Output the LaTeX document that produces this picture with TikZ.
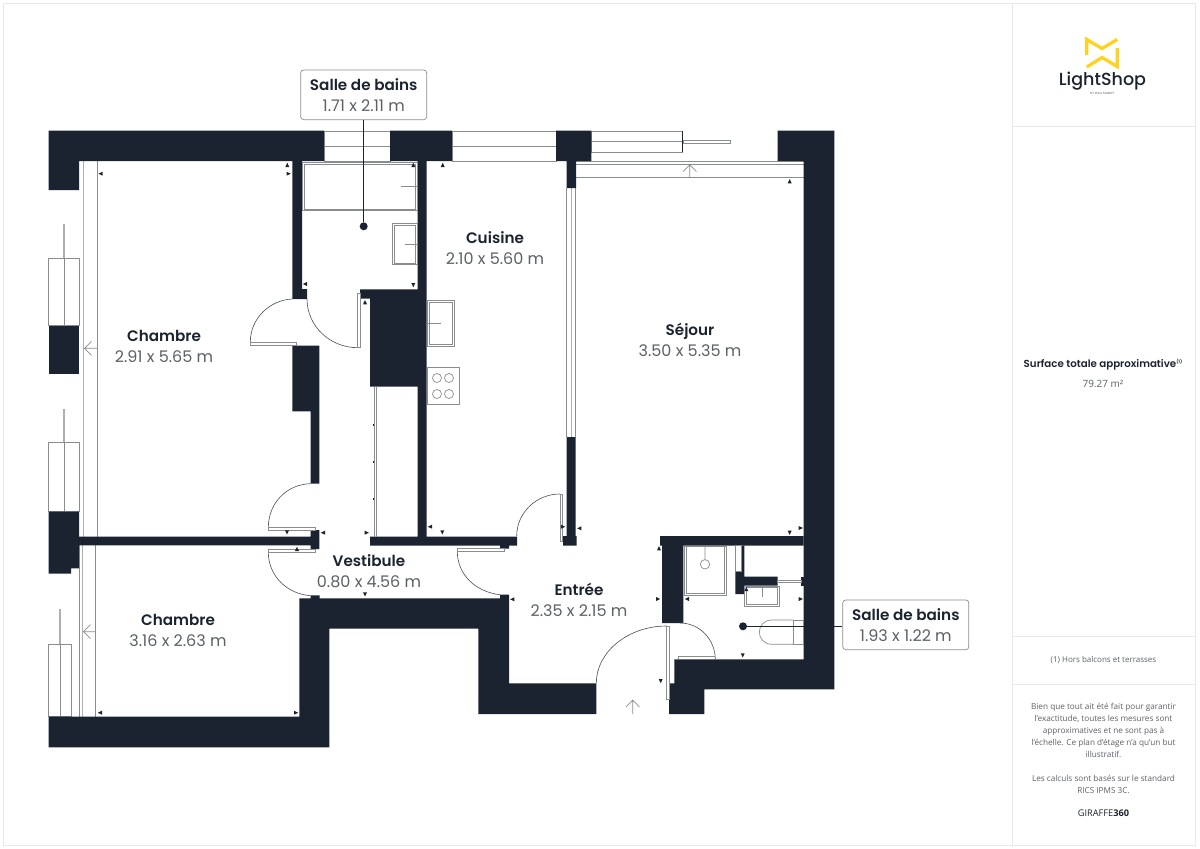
\documentclass[tikz,border=0pt]{standalone}
\usepackage{fontspec}
\setmainfont{Poppins}
\newfontfamily\panelfont{Open Sans}
\newfontfamily\namefont{Poppins SemiBold}
\newfontfamily\logofont{Poppins Medium}
\definecolor{wallblue}{HTML}{1B2330}
\definecolor{dimgray}{HTML}{5C6168}
\definecolor{fixgray}{HTML}{8A8D90}
\definecolor{paneledge}{HTML}{E9E9E9}
\definecolor{logoyellow}{HTML}{FFD21F}
\newcommand{\roomname}[1]{{\namefont\fontsize{15.2}{21}\selectfont\color{wallblue}#1}}
\tikzset{
  wall/.style={fill=wallblue,draw=none},
  fix/.style={draw=fixgray,line width=0.7pt},
  fixthick/.style={draw=fixgray!70,line width=1.5pt},
  leaf/.style={draw=wallblue!80,line width=0.6pt},
  roomlabel/.style={align=center,inner sep=0pt,text=dimgray,font=\fontsize{16}{21}\selectfont},
  callout/.style={roomlabel,draw=fixgray,fill=white,rounded corners=3pt,line width=0.7pt,minimum width=126pt,minimum height=49.7pt},
  panel/.style={align=center,inner sep=0pt,text=dimgray,font=\panelfont\fontsize{8.2}{12}\selectfont},
  pin/.style={circle,fill=wallblue,inner sep=0pt,minimum size=8pt},
  leader/.style={draw=wallblue,line width=0.8pt}
}
\begin{document}
\begin{tikzpicture}[x=1pt,y=-1pt]
 \useasboundingbox (0,0) rectangle (1200,849);
 \fill[white] (0,0) rectangle (1200,849);
 \draw[paneledge,line width=1pt] (3,3) rectangle (1195.5,845.5);
 \draw[paneledge,line width=1pt] (1012,3) -- (1012,845.5);
 \foreach \y in {126,636.7,684.3} \draw[paneledge,line width=1pt] (1012,\y) -- (1195.5,\y);

 % windows and balcony lines
 \draw[fix] (324,131) rectangle (390,161) (324,146) -- (390,146);
 \draw[fix] (452,131) rectangle (556,161) (452,146) -- (556,146);
 \draw[fix] (591.3,131) rectangle (682.7,152.3) (591.3,141.7) -- (682.7,141.7);
 \draw[wallblue,line width=1.2pt] (682.7,131) -- (682.7,152.3);
 \draw[fix] (683,140.4) rectangle (730.6,142.9);
 \draw[fix] (576,161) -- (804,161) (576,164.3) -- (804,164.3) (576,177.3) -- (804,177.3);
 \draw[fix] (689.7,177.3) -- (689.7,164.8) (683,171.5) -- (689.7,164.8) -- (696.4,171.5);
 \draw[fix] (566.7,188) -- (566.7,437) (575.5,188) -- (575.5,437);
 \draw[fixthick] (571.6,188) -- (571.6,437);
 \draw[fixthick] (83.3,161) -- (83.3,536.7);
 \draw[fix] (97.3,161) -- (97.3,536.7);
 \draw[fix] (79.3,545) -- (79.3,716.7) (95.7,545) -- (95.7,716.7);
 \draw[fixthick] (82.7,545) -- (82.7,716.7);
 \draw[fix] (97.3,348.3) -- (84.5,348.3) (91.5,341.3) -- (84.5,348.3) -- (91.5,355.3);
 \draw[fix] (95.7,631.7) -- (83.5,631.7) (90.5,624.7) -- (83.5,631.7) -- (90.5,638.7);
 \draw[fix] (48.7,258.3) rectangle (79,325.7) (64,258.3) -- (64,325.7);
 \draw[fix] (48.7,442.3) rectangle (79,511.7) (64,442.3) -- (64,511.7);
 \draw[fix] (48.7,644) rectangle (71.7,716.7) (60,644) -- (60,716.7);
 \draw[fixthick] (64,224.3) -- (64,258) (64,408.7) -- (64,442) (60,609) -- (60,644);

 % walls
 \path[wall] (48.7,130.7) -- (324,130.7) -- (324,161) -- (302,161) -- (302,289) -- (307,289) -- (307,299) -- (292.3,299) -- (292.3,161) -- (79,161) -- (79,190) -- (48.7,190) -- cycle;
 \path[wall] (390,130.7) -- (452,130.7) -- (452,161) -- (426.7,161) -- (426.7,536.7) -- (517,536.7) -- (517,545.5) -- (509,545.5) -- (509,548.5) -- (500,548.5) -- (500,545.5) -- (370,545.5) -- (370,536.7) -- (417.7,536.7) -- (417.7,386.7) -- (370,386.7) -- (370,298.5) -- (360,298.5) -- (360,289.3) -- (417.7,289.3) -- (417.7,161) -- (390,161) -- cycle;
 \path[wall] (556,130.7) -- (591.3,130.7) -- (591.3,161) -- (576,161) -- (576,188) -- (566.7,188) -- (566.7,161) -- (556,161) -- cycle;
 \path[wall] (566.7,437) -- (575.7,437) -- (575.7,536) -- (576.7,536) -- (576.7,545.5) -- (563,545.5) -- (563,536) -- (566.7,536) -- cycle;
 \path[wall] (777.7,130.7) -- (834.3,130.7) -- (834.3,689.3) -- (704.3,689.3) -- (704.3,714) -- (669,714) -- (669,683.3) -- (674.3,683.3) -- (674.3,659.3) -- (803.7,659.3) -- (803.7,161) -- (777.7,161) -- cycle;
 \path[wall] (803.7,536) -- (660,536) -- (660,545.7) -- (662,545.7) -- (662,623) -- (683.3,623) -- (683.3,545.7) -- (803.7,545.7) -- cycle;
 \path[wall] (741,545.7) -- (744.3,545.7) -- (744.3,576.7) -- (777.7,576.7) -- (777.7,585.7) -- (744.3,585.7) -- (744.3,594) -- (735.3,594) -- (735.3,571.7) -- (741,571.7) -- cycle;
 \path[wall] (801.3,576.7) rectangle (804,585.7);
 \path[wall] (292.3,345.7) -- (319.3,345.7) -- (319.3,483.7) -- (310.7,483.7) -- (310.7,411.3) -- (292.3,411.3) -- cycle;
 \path[wall] (79,536.7) -- (310.7,536.7) -- (310.7,530) -- (319.3,530) -- (319.3,549) -- (310.7,549) -- (310.7,545.3) -- (79,545.3) -- cycle;
 \path[wall] (48.7,325.7) rectangle (79,374.3);
 \path[wall] (48.7,511.7) -- (79,511.7) -- (79,568.3) -- (71,568.3) -- (71,573.7) -- (48.7,573.7) -- cycle;
 \path[wall] (48.7,716.7) -- (299.3,716.7) -- (299.3,598.3) -- (310.7,598.3) -- (310.7,595.3) -- (319.7,595.3) -- (319.7,598.3) -- (500,598.3) -- (500,594.7) -- (509,594.7) -- (509,683.3) -- (596.3,683.3) -- (596.3,714) -- (478.3,714) -- (478.3,628.7) -- (329.3,628.7) -- (329.3,747.3) -- (48.7,747.3) -- cycle;

 % doors
 \draw[leaf] (307,299) .. controls (307,326) and (330,347.7) .. (357.7,347.7);
 \draw[fix] (357.7,347.7) -- (357.7,293.3) -- (360.3,293.3) -- (360.3,347.7) -- cycle;
 \draw[leaf] (250.3,342.3) .. controls (250.3,318) and (270,300) .. (292.3,299);
 \draw[fix] (250.3,342.3) rectangle (296.7,345.7);
 \draw[leaf] (268.3,527.7) .. controls (268.3,503) and (287,484) .. (310.7,483.7);
 \draw[fix] (268.3,527.7) rectangle (315.7,530.3);
 \draw[leaf] (268.3,552) .. controls (268.3,576) and (287,594) .. (310.7,595.7);
 \draw[fix] (268.3,549.3) rectangle (315.7,552);
 \draw[leaf] (457.3,551.3) .. controls (457.3,575) and (476,592) .. (500,594.7);
 \draw[fix] (457.3,548.7) rectangle (504.7,551.3);
 \draw[leaf] (516.7,536) .. controls (516.7,513) and (536,494) .. (560,494);
 \draw[fix] (560,494) rectangle (562.7,541);
 \draw[leaf] (596.3,683) .. controls (596.3,652) and (628,626) .. (666.7,626);
 \draw[fix] (666.7,626) rectangle (669.3,699.3);
 \draw[leaf] (680,623) .. controls (700,623) and (715.3,640) .. (715.3,659.3);
 \draw[fix] (678.3,659.3) -- (678.3,656.3) -- (715.3,656.3);
 \draw[fix] (735.3,545.7) rectangle (741,571.7);
 \draw[fix] (777.7,580) rectangle (801.3,582.5);
 \draw[fix] (374,387) -- (374,536.7);
 \draw[fix] (376,387) -- (376,536.7);
 \foreach \y in {425,461.7,499.3} \draw[wallblue,line width=0.6pt] (373.3,\y-1) -- (373.3,\y+1);
 \draw[fix] (632.7,714) -- (632.7,700) (626,707) -- (632.7,700) -- (639.4,707);

 % fittings
 \draw[fix] (302.7,162.3) rectangle (417.3,210.7) (304.4,164) rectangle (415.6,209) (401,186.7) -- (417.3,186.7);
 \draw[fix] (392.3,223.3) rectangle (417.3,264.7) (394,225) rectangle (415.6,263) (405,244) -- (417.3,244);
 \draw[fix] (427.3,300.7) rectangle (454,346) (429,302.4) rectangle (452.3,344.3) (427.3,323.3) -- (440.7,323.3);
 \draw[fix] (427.3,367.3) rectangle (459.3,404.7);
 \foreach \x in {437,449} \foreach \y in {378,394} \draw[fix] (\x,\y) circle (4.5);
 \draw[fix] (684.3,546) rectangle (726.3,595.3) (686,546) rectangle (724.6,593.6);
 \draw[fix] (705,564.3) circle (4.7) (705,546) -- (705,559.6);
 \draw[fix] (744.3,586) rectangle (779.3,606.3) (746,587.7) rectangle (777.6,604.6) (762,586) -- (762,596.5);
 \draw[fix] (793.3,620) rectangle (803.7,644.3);
 \draw[fix] (793.3,620) -- (771.7,620) .. controls (764,620) and (759.3,626) .. (759.3,632.2) .. controls (759.3,638) and (764,644.3) .. (771.7,644.3) -- (793.3,644.3);

 % little dimension marks
 \foreach \x/\y/\a in {287.3/165/90,288.5/173.7/0,100.7/173.7/180,305/284/180,413.3/165/90,413.3/285/-90,365/302.3/90,442.7/165/90,789.7/181.3/90,100/712.7/180,296/712.7/0,287/532.3/-90,297/549/90,323/532.7/180,366.7/532.7/0,430/526.7/180,442.3/532.3/-90,365/594.3/-90,512.3/599.3/180,563/526.7/0,579.3/528.3/180,659/548.3/90,658/599/0,687/599/180,660.7/681/-90,789.7/532.7/-90,800.7/528/0,800.7/599/0,742.7/655.3/-90,746.3/589/90}
  \fill[wallblue,shift={(\x,\y)},rotate=\a] (-2,-2) -- (2.2,0) -- (-2,2) -- cycle;

 % room labels
 \node[roomlabel] (chambrehaut) at (164,346.5) {\roomname{Chambre}\\2.91 x 5.65 m};
 \node[roomlabel] (chambrebas) at (178,630.5) {\roomname{Chambre}\\3.16 x 2.63 m};
 \node[roomlabel] (cuisine) at (495,248.5) {\roomname{Cuisine}\\2.10 x 5.60 m};
 \node[roomlabel] (sejour) at (690,339.5) {\roomname{Séjour}\\3.50 x 5.35 m};
 \node[roomlabel] (vestibule) at (369,571.5) {\roomname{Vestibule}\\0.80 x 4.56 m};
 \node[roomlabel] (entree) at (579,600) {\roomname{Entrée}\\2.35 x 2.15 m};

 % callouts
 \node[callout] (bainshaut) at (363.7,94.8) {\roomname{Salle de bains}\\1.71 x 2.11 m};
 \node[pin] (pinhaut) at (363.7,226.3) {};
 \draw[leader] (bainshaut) -- (pinhaut);
 \node[callout] (bainsbas) at (905.8,624.8) {\roomname{Salle de bains}\\1.93 x 1.22 m};
 \node[pin] (pinbas) at (743,626.3) {};
 \draw[leader] (pinbas) -- (pinbas -| bainsbas.west);

 % side panel
 \draw[logoyellow,line width=3.3pt,miter limit=4] (1086.8,55) -- (1086.8,39.5) -- (1102,48.5) -- (1117.3,39.5);
 \draw[logoyellow,line width=3.3pt,miter limit=4] (1117.3,48) -- (1117.3,66.5) -- (1102,57.5) -- (1086.8,67);
 \node[inner sep=0pt,text=wallblue,font=\logofont\fontsize{17.5}{20}\selectfont] (logo) at (1102.5,81.5) {LightShop};
 \node[inner sep=0pt,text=dimgray,font=\fontsize{3}{3}\selectfont] (logosub) at (1102.5,93) {BY WALL MARKET};
 \node[inner sep=0pt,text=wallblue,font=\namefont\fontsize{10.25}{12}\selectfont] (surface) at (1103,364.5) {Surface totale approximative\raisebox{3.5pt}{\fontsize{4.5}{5}\selectfont(1)}};
 \node[panel,font=\panelfont\fontsize{10}{12}\selectfont] (surfacevaleur) at (1103,384) {79.27 m²};
 \node[panel,font=\panelfont\fontsize{8}{12}\selectfont] (hors) at (1103.5,660) {(1) Hors balcons et terrasses};
 \node[panel] (avertissement) at (1103.5,730.5) {Bien que tout ait été fait pour garantir\\l’exactitude, toutes les mesures sont\\approximatives et ne sont pas à\\l’échelle. Ce plan d’étage n’a qu’un but\\illustratif.};
 \node[panel] (calculs) at (1103.5,784.5) {Les calculs sont basés sur le standard\\RICS IPMS 3C.};
 \node[panel,text=wallblue,font=\panelfont\fontsize{9.2}{12}\selectfont] (giraffe) at (1103.5,813.5) {GIRAFFE\textbf{360}};
\end{tikzpicture}
\end{document}
